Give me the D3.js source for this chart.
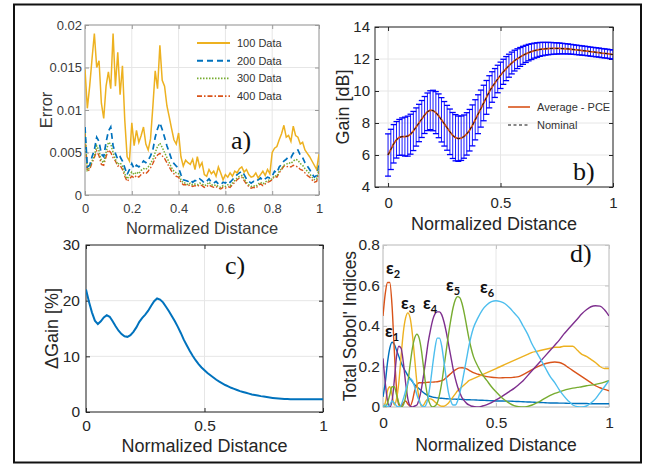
<!DOCTYPE html>
<html>
<head>
<meta charset="utf-8">
<script src="https://cdn.jsdelivr.net/npm/d3@7"></script>
<style>
  body { margin: 0; background: #fff; }
  svg { display: block; font-family: "Liberation Sans", Arial, sans-serif; }
</style>
</head>
<body>
<svg id="fig" width="649" height="465"></svg>
<script>
// ---------- a) error vs normalized distance ----------
const errX = d3.range(101).map(i => i / 100);
const err100 = [.0148,.0102,.0128,.0160,.0190,.0150,.0158,.0108,.0090,.0128,
  .0145,.0125,.0190,.0128,.0168,.0118,.0152,.0088,.0045,.0040,
  .0085,.0058,.0076,.0062,.0070,.0080,.0060,.0053,.0066,.0104,
  .0146,.0125,.0176,.0135,.0128,.0105,.0092,.0078,.0065,.0060,
  .0073,.0045,.0034,.0041,.0038,.0036,.0042,.0030,.0045,.0033,
  .0038,.0024,.0022,.0030,.0025,.0028,.0022,.0033,.0026,.0018,
  .0024,.0021,.0026,.0022,.0028,.0026,.0031,.0033,.0027,.0030,
  .0024,.0021,.0022,.0026,.0020,.0024,.0028,.0023,.0030,.0025,
  .0050,.0055,.0057,.0065,.0072,.0082,.0068,.0070,.0063,.0081,
  .0070,.0068,.0060,.0062,.0053,.0049,.0045,.0040,.0035,.0030,.0048];
const err200 = [.0080,.0033,.0035,.0045,.0053,.0068,.0063,.0048,.0045,.0062,
  .0075,.0080,.0058,.0049,.0042,.0045,.0040,.0032,.0024,.0030,
  .0037,.0031,.0035,.0033,.0036,.0040,.0038,.0041,.0046,.0053,
  .0068,.0078,.0085,.0077,.0068,.0058,.0050,.0042,.0037,.0034,
  .0032,.0024,.0018,.0017,.0016,.0018,.0015,.0017,.0016,.0019,
  .0017,.0014,.0016,.0019,.0015,.0014,.0016,.0013,.0012,.0015,
  .0014,.0017,.0015,.0018,.0021,.0024,.0026,.0028,.0024,.0019,
  .0016,.0014,.0016,.0015,.0018,.0020,.0017,.0019,.0021,.0020,
  .0022,.0028,.0026,.0033,.0036,.0040,.0042,.0045,.0044,.0049,
  .0052,.0053,.0047,.0044,.0038,.0034,.0030,.0025,.0021,.0023,.0040];
const err300 = [.0073,.0029,.0032,.0040,.0046,.0058,.0052,.0040,.0038,.0050,
  .0062,.0060,.0050,.0042,.0036,.0038,.0034,.0025,.0019,.0023,
  .0027,.0024,.0027,.0025,.0029,.0031,.0030,.0033,.0037,.0042,
  .0050,.0057,.0061,.0056,.0050,.0044,.0038,.0032,.0028,.0026,
  .0025,.0018,.0014,.0014,.0012,.0014,.0012,.0013,.0012,.0014,
  .0013,.0011,.0012,.0015,.0012,.0011,.0012,.0010,.0009,.0011,
  .0010,.0012,.0011,.0014,.0017,.0020,.0022,.0023,.0019,.0015,
  .0012,.0010,.0011,.0010,.0013,.0015,.0013,.0015,.0017,.0018,
  .0019,.0023,.0022,.0028,.0031,.0035,.0036,.0038,.0037,.0040,
  .0042,.0041,.0037,.0035,.0031,.0028,.0025,.0021,.0018,.0019,.0030];
const err400 = [.0072,.0028,.0030,.0038,.0044,.0052,.0046,.0036,.0035,.0045,
  .0053,.0050,.0044,.0040,.0034,.0035,.0030,.0022,.0016,.0019,
  .0022,.0020,.0023,.0021,.0024,.0026,.0025,.0028,.0032,.0037,
  .0043,.0047,.0049,.0046,.0043,.0038,.0033,.0028,.0025,.0022,
  .0021,.0015,.0012,.0012,.0011,.0012,.0010,.0011,.0010,.0012,
  .0011,.0009,.0010,.0012,.0010,.0009,.0010,.0008,.0007,.0009,
  .0008,.0010,.0009,.0012,.0015,.0018,.0020,.0021,.0017,.0013,
  .0010,.0008,.0009,.0008,.0011,.0013,.0011,.0013,.0015,.0016,
  .0018,.0022,.0021,.0026,.0030,.0034,.0033,.0034,.0033,.0035,
  .0034,.0033,.0030,.0029,.0026,.0023,.0021,.0018,.0015,.0016,.0028];
const errLabels = ["100 Data", "200 Data", "300 Data", "400 Data"];
const errXTicks = [0, 0.2, 0.4, 0.6, 0.8, 1];
const errYTicks = [0, 0.005, 0.01, 0.015, 0.02];

// ---------- b) gain and c) delta gain ----------
const gainX = d3.range(81).map(i => i / 80);
const gainMean = [6.00,6.35,6.70,6.95,7.10,7.15,7.15,7.18,7.30,7.50,
  7.75,8.00,8.25,8.50,8.70,8.80,8.78,8.65,8.45,8.20,
  7.95,7.70,7.45,7.22,7.08,7.02,7.05,7.15,7.32,7.55,
  7.85,8.20,8.55,8.90,9.25,9.60,9.95,10.25,10.50,10.75,
  10.98,11.20,11.40,11.58,11.75,11.90,12.02,12.13,12.23,12.32,
  12.40,12.46,12.52,12.56,12.60,12.62,12.64,12.65,12.66,12.66,
  12.66,12.66,12.65,12.64,12.63,12.61,12.59,12.57,12.55,12.53,
  12.51,12.49,12.46,12.44,12.42,12.40,12.37,12.35,12.33,12.30,12.28];
const deltaGain = [22.0,19.8,17.9,16.4,15.8,16.3,17.0,17.4,17.1,16.3,
  15.4,14.6,14.0,13.6,13.5,13.8,14.4,15.2,16.2,16.9,
  17.5,18.2,19.1,19.9,20.4,20.2,19.7,18.9,18.1,17.2,
  16.3,15.3,14.2,13.0,12.0,11.0,10.1,9.3,8.6,8.0,
  7.5,7.0,6.6,6.2,5.8,5.45,5.15,4.85,4.6,4.35,
  4.15,3.95,3.75,3.6,3.45,3.3,3.15,3.05,2.95,2.85,
  2.77,2.68,2.6,2.53,2.47,2.42,2.38,2.35,2.33,2.31,
  2.3,2.29,2.28,2.28,2.28,2.28,2.29,2.29,2.3,2.3,2.3];
const gainLabels = ["Average - PCE", "Nominal"];

// ---------- d) total Sobol' indices ----------
const sobolX = d3.range(41).map(i => i / 100).concat(d3.range(30).map(i => 0.42 + i * 0.02));
const sobol1 = [.05,.12,.22,.29,.32,.31,.28,.25,.22,.195,.175,.155,.14,.125,.11,.10,.09,.08,.07,.062,
  .056,.052,.049,.047,.045,.044,.043,.042,.041,.040,.040,.039,.039,.038,.038,.037,.037,.036,.036,.035,.035,
  .034,.033,.032,.031,.030,.030,.029,.029,.028,.027,.026,.025,.024,.023,.022,.021,.020,.020,.019,.019,
  .018,.018,.017,.017,.017,.016,.016,.016,.016,.016];
const sobol2 = [.45,.56,.615,.615,.50,.28,.09,.01,.005,.02,.03,.015,.005,.03,.08,.11,.12,.12,.12,.121,
  .122,.123,.123,.124,.125,.127,.13,.135,.145,.155,.165,.175,.183,.19,.193,.194,.192,.188,.182,.176,.17,
  .162,.155,.15,.147,.145,.144,.145,.145,.147,.15,.16,.172,.185,.197,.207,.215,.22,.222,.22,.21,
  .195,.18,.165,.15,.135,.12,.105,.095,.087,.08];
const sobol3 = [0,.02,.08,.1,.06,.01,.04,.12,.25,.37,.44,.465,.44,.36,.24,.12,.04,.005,.01,.03,
  .04,.04,.035,.025,.015,.008,.004,.004,.01,.02,.035,.05,.065,.08,.09,.10,.11,.12,.13,.135,.14,
  .15,.16,.17,.18,.19,.20,.21,.22,.23,.24,.25,.26,.27,.275,.28,.285,.29,.295,.295,.30,
  .30,.30,.28,.26,.25,.235,.22,.20,.19,.19];
const sobol4 = [.24,.12,.03,0,.03,.13,.25,.30,.29,.22,.12,.04,.005,0,.005,.01,.04,.09,.16,.24,
  .32,.38,.43,.46,.47,.47,.455,.42,.37,.31,.25,.19,.14,.10,.07,.045,.03,.018,.01,.005,.003,
  0,.005,.012,.022,.035,.048,.062,.077,.092,.11,.13,.155,.18,.205,.23,.255,.28,.305,.33,.36,
  .385,.41,.435,.46,.48,.495,.50,.498,.48,.45];
const sobol5 = [0,0,.02,.06,.1,.1,.06,.02,0,.01,.05,.12,.21,.29,.34,.36,.34,.28,.19,.1,
  .04,.01,0,.005,.02,.06,.12,.2,.28,.36,.43,.49,.53,.545,.54,.51,.46,.40,.34,.29,.25,
  .2,.16,.13,.10,.075,.052,.033,.018,.007,.002,0,.003,.01,.02,.032,.045,.057,.067,.075,.082,
  .088,.093,.097,.10,.105,.108,.112,.117,.123,.13];
const sobol6 = [0,.01,0,.01,.03,.02,.005,0,.01,.04,.08,.12,.14,.13,.1,.06,.03,.01,0,.01,
  .05,.12,.21,.29,.34,.34,.3,.22,.14,.07,.03,.01,.01,.03,.07,.12,.18,.24,.3,.35,.39,
  .44,.48,.505,.52,.525,.52,.51,.49,.465,.44,.40,.36,.31,.27,.23,.19,.15,.12,.085,.055,
  .03,.01,.002,0,.005,.02,.04,.07,.1,.13];
const sobolNames = ["1", "2", "3", "4", "5", "6"];
const sobolLabelAt = [[385, 337], [386, 274], [401, 309], [423, 309], [446, 291], [480, 293]];

// MATLAB default line colours
const mBlue = "#0072BD", mRed = "#D95319", mYellow = "#EDB120",
      mPurple = "#7E2F8E", mGreen = "#77AC30", mCyan = "#4DBEEE";

const svg = d3.select("#fig");
const defs = svg.append("defs");
let clipCount = 0;

// builds one MATLAB-like axes box with grid, inward ticks and labels
function panel(o) {
  const x = d3.scaleLinear().domain(o.xDomain).range([o.left, o.right]);
  const y = d3.scaleLinear().domain(o.yDomain).range([o.bottom, o.top]);
  const g = svg.append("g");

  g.append("g").selectAll("line").data(o.xTicks).join("line")
    .attr("x1", d => x(d)).attr("x2", d => x(d))
    .attr("y1", o.top).attr("y2", o.bottom)
    .attr("stroke", "#e6e6e6");
  g.append("g").selectAll("line").data(o.yTicks).join("line")
    .attr("y1", d => y(d)).attr("y2", d => y(d))
    .attr("x1", o.left).attr("x2", o.right)
    .attr("stroke", "#e6e6e6");

  const ax = g.append("g");
  ax.append("g").attr("transform", `translate(0,${o.bottom})`)
    .call(d3.axisBottom(x).tickValues(o.xTicks).tickFormat(d => String(d)).tickSize(-4).tickPadding(o.xPad));
  ax.append("g").attr("transform", `translate(${o.left},0)`)
    .call(d3.axisLeft(y).tickValues(o.yTicks).tickFormat(d => String(d)).tickSize(-4).tickPadding(o.yPad));
  ax.append("g").attr("transform", `translate(0,${o.top})`)
    .call(d3.axisTop(x).tickValues(o.xTicks).tickFormat(() => "").tickSize(-4));
  ax.append("g").attr("transform", `translate(${o.right},0)`)
    .call(d3.axisRight(y).tickValues(o.yTicks).tickFormat(() => "").tickSize(-4));
  ax.selectAll(".domain").remove();
  ax.selectAll(".tick line").attr("stroke", o.axisColor);
  ax.selectAll(".tick text")
    .attr("fill", o.textColor)
    .style("font-family", '"Liberation Sans", Arial, sans-serif')
    .style("font-size", o.tickFont + "px");

  g.append("rect")
    .attr("x", o.left).attr("y", o.top)
    .attr("width", o.right - o.left).attr("height", o.bottom - o.top)
    .attr("fill", "none").attr("stroke", o.axisColor);

  // axis titles
  g.append("text")
    .attr("x", (o.left + o.right) / 2).attr("y", o.xLabelY)
    .attr("text-anchor", "middle").attr("fill", o.textColor)
    .style("font-size", o.labelFont + "px")
    .text("Normalized Distance");
  g.append("text")
    .attr("transform", `translate(${o.yLabelX},${(o.top + o.bottom) / 2}) rotate(-90)`)
    .attr("text-anchor", "middle").attr("fill", o.textColor)
    .style("font-size", o.labelFont + "px")
    .text(o.yLabel);

  const id = "clip" + (clipCount++);
  defs.append("clipPath").attr("id", id).append("rect")
    .attr("x", o.left).attr("y", o.top)
    .attr("width", o.right - o.left).attr("height", o.bottom - o.top);
  const plot = g.append("g").attr("clip-path", `url(#${id})`);

  g.append("text")
    .attr("x", o.tag[1]).attr("y", o.tag[2])
    .style("font-family", '"Liberation Serif", "Times New Roman", serif')
    .style("font-size", "26px").attr("fill", "#111")
    .text(o.tag[0]);

  return { x, y, g, plot };
}

// ---------------- panel a ----------------
const pa = panel({
  left: 85, right: 319, top: 25, bottom: 195,
  xDomain: [0, 1], yDomain: [0, 0.02],
  xTicks: errXTicks, yTicks: errYTicks, xPad: 9, yPad: 3,
  axisColor: "#9a9a9a", textColor: "#3a3a3a", tickFont: 13, labelFont: 16.5,
  xLabelY: 234, yLabelX: 52, yLabel: "Error", tag: ["a)", 231, 149]
});
const errSeries = [
  { values: err100, color: mYellow, dash: null, width: 1.5 },
  { values: err200, color: mBlue, dash: "6,4", width: 1.7 },
  { values: err300, color: mGreen, dash: "1.5,1.5", width: 1.5 },
  { values: err400, color: mRed, dash: "5,2,1.5,2", width: 1.4 }
];
const errLine = v => d3.line().x((d, i) => pa.x(errX[i])).y(d => pa.y(d))(v);
pa.plot.selectAll("path.err").data(errSeries.slice().reverse()).join("path")
  .attr("class", "err")
  .attr("d", s => errLine(s.values))
  .attr("fill", "none")
  .attr("stroke", s => s.color)
  .attr("stroke-width", s => s.width)
  .attr("stroke-dasharray", s => s.dash);

const legA = pa.g.append("g");
errSeries.forEach((s, i) => {
  const cy = 43 + i * 17.7;
  legA.append("line").attr("x1", 197).attr("x2", 230).attr("y1", cy).attr("y2", cy)
    .attr("stroke", s.color).attr("stroke-width", s.width + 0.3).attr("stroke-dasharray", s.dash);
  legA.append("text").attr("x", 237).attr("y", cy + 4).attr("fill", "#333")
    .style("font-size", "11px").text(errLabels[i]);
});

// ---------------- panel b ----------------
const pb = panel({
  left: 375, right: 613, top: 27, bottom: 187,
  xDomain: [-0.058, 1], yDomain: [4, 14],
  xTicks: [0, 0.5, 1], yTicks: [4, 6, 8, 10, 12, 14], xPad: 10, yPad: 5,
  axisColor: "#262626", textColor: "#262626", tickFont: 15, labelFont: 18,
  xLabelY: 230, yLabelX: 349, yLabel: "Gain [dB]", tag: ["b)", 573, 180]
});
const bars = gainX.map((xv, i) => ({
  x: xv, lo: gainMean[i] * (1 - deltaGain[i] / 100), hi: gainMean[i] * (1 + deltaGain[i] / 100)
}));
const eb = pb.plot.append("g").attr("stroke", "#0000ff");
eb.selectAll("line.stem").data(bars).join("line").attr("class", "stem")
  .attr("x1", d => pb.x(d.x)).attr("x2", d => pb.x(d.x))
  .attr("y1", d => pb.y(d.lo)).attr("y2", d => pb.y(d.hi))
  .attr("stroke-width", 0.9);
eb.selectAll("line.capHi").data(bars).join("line").attr("class", "capHi")
  .attr("x1", d => pb.x(d.x) - 3).attr("x2", d => pb.x(d.x) + 3)
  .attr("y1", d => pb.y(d.hi)).attr("y2", d => pb.y(d.hi))
  .attr("stroke-width", 1.3);
eb.selectAll("line.capLo").data(bars).join("line").attr("class", "capLo")
  .attr("x1", d => pb.x(d.x) - 3).attr("x2", d => pb.x(d.x) + 3)
  .attr("y1", d => pb.y(d.lo)).attr("y2", d => pb.y(d.lo))
  .attr("stroke-width", 1.3);
const gainLine = d3.line().x((d, i) => pb.x(gainX[i])).y(d => pb.y(d));
pb.plot.append("path").attr("d", gainLine(gainMean))
  .attr("fill", "none").attr("stroke", mRed).attr("stroke-width", 1.8);
pb.plot.append("path").attr("d", gainLine(gainMean))
  .attr("fill", "none").attr("stroke", "#111").attr("stroke-width", 1)
  .attr("stroke-dasharray", "3,2.5");

const legB = pb.g.append("g");
[[mRed, null, 1.6], ["#111", "3,2.5", 1.2]].forEach((s, i) => {
  const cy = 107 + i * 18;
  legB.append("line").attr("x1", 508).attr("x2", 530).attr("y1", cy).attr("y2", cy)
    .attr("stroke", s[0]).attr("stroke-width", s[2]).attr("stroke-dasharray", s[1]);
  legB.append("text").attr("x", 537).attr("y", cy + 4).attr("fill", "#333")
    .style("font-size", "11px").text(gainLabels[i]);
});

// ---------------- panel c ----------------
const pc = panel({
  left: 86, right: 323, top: 245, bottom: 412,
  xDomain: [0, 1], yDomain: [0, 30],
  xTicks: [0, 0.5, 1], yTicks: [0, 10, 20, 30], xPad: 8, yPad: 6,
  axisColor: "#262626", textColor: "#262626", tickFont: 15.5, labelFont: 18,
  xLabelY: 452, yLabelX: 58, yLabel: "\u0394Gain [%]", tag: ["c)", 225, 274]
});
pc.plot.append("path")
  .attr("d", d3.line().x((d, i) => pc.x(gainX[i])).y(d => pc.y(d))(deltaGain))
  .attr("fill", "none").attr("stroke", mBlue).attr("stroke-width", 2);

// ---------------- panel d ----------------
const pd = panel({
  left: 383, right: 609, top: 245, bottom: 407,
  xDomain: [0, 1], yDomain: [0, 0.8],
  xTicks: [0, 0.5, 1], yTicks: [0, 0.2, 0.4, 0.6, 0.8], xPad: 10, yPad: 3,
  axisColor: "#c4c4c4", textColor: "#262626", tickFont: 15.5, labelFont: 17.5,
  xLabelY: 451, yLabelX: 356, yLabel: "Total Sobol' Indices", tag: ["d)", 570, 262]
});
const sobolSeries = [
  { v: sobol1, c: mBlue }, { v: sobol2, c: mRed }, { v: sobol3, c: mYellow },
  { v: sobol4, c: mPurple }, { v: sobol5, c: mGreen }, { v: sobol6, c: mCyan }
];
const sobolLine = d3.line().curve(d3.curveMonotoneX)
  .x((d, i) => pd.x(sobolX[i])).y(d => pd.y(d));
pd.plot.selectAll("path.sob").data(sobolSeries).join("path")
  .attr("class", "sob")
  .attr("d", s => sobolLine(s.v))
  .attr("fill", "none").attr("stroke", s => s.c).attr("stroke-width", 1.4);

sobolNames.forEach((n, i) => {
  const t = pd.g.append("text")
    .attr("x", sobolLabelAt[i][0]).attr("y", sobolLabelAt[i][1])
    .style("font-family", "Lato, 'Open Sans', sans-serif")
    .style("font-weight", "bold").style("font-size", "17px").attr("fill", "#111");
  t.append("tspan").text("\u03b5");
  t.append("tspan").attr("dy", 4).style("font-size", "11px").text(n);
});

// outer frame
svg.append("rect").attr("x", 14).attr("y", 4.5).attr("width", 627).attr("height", 458)
  .attr("fill", "none").attr("stroke", "#111").attr("stroke-width", 2);
</script>
</body>
</html>
